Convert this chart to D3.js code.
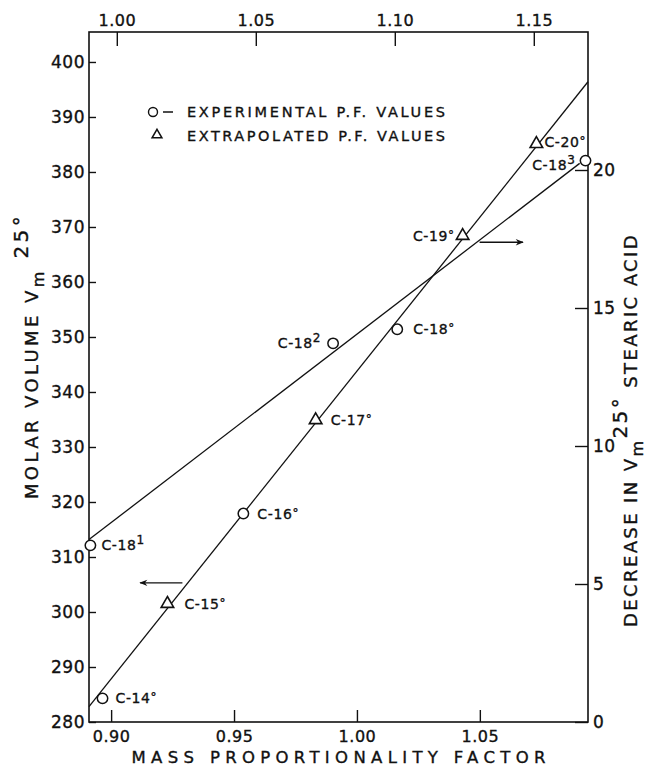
<!DOCTYPE html>
<html><head><meta charset="utf-8">
<script src="https://cdn.jsdelivr.net/npm/d3@7"></script>
<style>
body{margin:0;background:#fff}
svg{display:block}
text{font-family:"DejaVu Sans",sans-serif;fill:#111;stroke:#111;stroke-width:0.35px}
</style>
</head><body>
<svg id="c" width="647" height="767"></svg>
<script>
// ---------- data ----------
const bottomTicks = [0.90, 0.95, 1.00, 1.05];
const topTicks = [1.00, 1.05, 1.10, 1.15];
const leftTicks = [280, 290, 300, 310, 320, 330, 340, 350, 360, 370, 380, 390, 400];
const rightTicks = [0, 5, 10, 15, 20];

// homologous series: mass proportionality factor (bottom) vs molar volume (left)
const homologNames = ["C-14", "C-15", "C-16", "C-17", "C-18", "C-19", "C-20"];
const homologPF = [0.8965, 0.9229, 0.9538, 0.9832, 1.0164, 1.0430, 1.0730];
const homologVm = [284.3, 301.5, 317.9, 334.9, 351.4, 368.4, 385.1];
const homologKind = ["exp", "ext", "exp", "ext", "exp", "ext", "ext"];
const homologFitPF = [0.891, 1.094];
const homologFitVm = [282.8, 396.4];

// C-18 series: P.F. (top) vs decrease in Vm (right)
const c18Names = ["C-18", "C-18", "C-18"];
const c18Sup = ["1", "2", "3"];
const c18PF = [0.9905, 1.0778, 1.1686];
const c18Decrease = [6.40, 13.72, 20.34];
const c18Kind = ["exp", "exp", "exp"];
const c18FitPF = [0.990, 1.1665];
const c18FitDec = [6.61, 20.24];

// arrows (which axis each line belongs to)
const arrowLeftPF = [0.9290, 0.9118];
const arrowLeftVm = 305.3;
const arrowRightPF = [1.1305, 1.1461];
const arrowRightDec = 17.38;

const legendLabels = ["EXPERIMENTAL  P.F.  VALUES", "EXTRAPOLATED  P.F.  VALUES"];

// ---------- layout ----------
const L = 89, R = 588, T = 32, B = 722;
const svg = d3.select("#c");

const xB = d3.scaleLinear().domain([0.891, 1.094]).range([L, R]);
const xT = d3.scaleLinear().domain([0.990, 1.1695]).range([L, R]);
const yL = d3.scaleLinear().domain([280, 405.45]).range([B, T]);
const yR = d3.scaleLinear().domain([0, 25]).range([B, T]);

function styleAxis(g, size) {
  g.select(".domain").remove();
  g.selectAll(".tick line").attr("stroke", "#111").attr("stroke-width", 1.4);
  g.selectAll(".tick text").attr("font-size", size).attr("fill", "#111")
    .attr("font-family", "DejaVu Sans, sans-serif").attr("letter-spacing", 0.5);
}

svg.append("g").attr("transform", `translate(0,${B})`)
  .call(d3.axisBottom(xB).tickValues(bottomTicks).tickFormat(d3.format(".2f"))
    .tickSize(-12).tickPadding(9))
  .call(g => styleAxis(g, 16));
svg.append("g").attr("transform", `translate(0,${T})`)
  .call(d3.axisTop(xT).tickValues(topTicks).tickFormat(d3.format(".2f"))
    .tickSize(-14).tickPadding(6))
  .call(g => styleAxis(g, 16));
svg.append("g").attr("transform", `translate(${L},0)`)
  .call(d3.axisLeft(yL).tickValues(leftTicks).tickSize(-7).tickPadding(4))
  .call(g => styleAxis(g, 17));
svg.append("g").attr("transform", `translate(${R},0)`)
  .call(d3.axisRight(yR).tickValues(rightTicks).tickSize(-13).tickPadding(5))
  .call(g => styleAxis(g, 17));

// frame
svg.append("rect").attr("x", L).attr("y", T).attr("width", R - L).attr("height", B - T)
  .attr("fill", "none").attr("stroke", "#111").attr("stroke-width", 1.6);

// fitted lines
const line = d3.line();
svg.append("path")
  .attr("d", line(homologFitPF.map((p, i) => [xB(p), yL(homologFitVm[i])])))
  .attr("fill", "none").attr("stroke", "#111").attr("stroke-width", 1.3);
svg.append("path")
  .attr("d", line(c18FitPF.map((p, i) => [xT(p), yR(c18FitDec[i])])))
  .attr("fill", "none").attr("stroke", "#111").attr("stroke-width", 1.3);

// arrows
const defs = svg.append("defs");
defs.append("marker").attr("id", "ah").attr("viewBox", "0 0 10 10")
  .attr("refX", 9).attr("refY", 5).attr("markerWidth", 10).attr("markerHeight", 8)
  .attr("markerUnits", "userSpaceOnUse").attr("orient", "auto")
  .append("path").attr("d", "M0,1 L10,5 L0,9 L3,5 Z").attr("fill", "#111");
svg.append("line")
  .attr("x1", xB(arrowLeftPF[0])).attr("x2", xB(arrowLeftPF[1]))
  .attr("y1", yL(arrowLeftVm)).attr("y2", yL(arrowLeftVm))
  .attr("stroke", "#111").attr("stroke-width", 1.4).attr("marker-end", "url(#ah)");
svg.append("line")
  .attr("x1", xT(arrowRightPF[0])).attr("x2", xT(arrowRightPF[1]))
  .attr("y1", yR(arrowRightDec)).attr("y2", yR(arrowRightDec))
  .attr("stroke", "#111").attr("stroke-width", 1.4).attr("marker-end", "url(#ah)");

// markers
const tri = d3.symbol().type(d3.symbolTriangle).size(68);
function drawMarker(x, y, kind) {
  if (kind === "exp") {
    svg.append("circle").attr("cx", x).attr("cy", y).attr("r", 5.2)
      .attr("fill", "#fff").attr("stroke", "#111").attr("stroke-width", 1.5);
  } else {
    svg.append("path").attr("d", tri()).attr("transform", `translate(${x},${y})`)
      .attr("fill", "#fff").attr("stroke", "#111").attr("stroke-width", 1.6);
  }
}
homologPF.forEach((p, i) => drawMarker(xB(p), yL(homologVm[i]), homologKind[i]));
c18PF.forEach((p, i) => drawMarker(xT(p), yR(c18Decrease[i]), c18Kind[i]));

// point labels (dx, dy, anchor)
const homologLabelPos = [[13, 5, "start"], [17, 5, "start"], [14, 5, "start"], [15, 5, "start"], [16, 5, "start"], [-8, 5, "end"], [8, 3, "start"]];
const c18LabelPos = [[11, 5, "start"], [-12, 5, "end"], [-10, 9, "end"]];
function addLabel(x, y, name, sup, pos) {
  const t = svg.append("text").attr("x", x + pos[0]).attr("y", y + pos[1])
    .attr("text-anchor", pos[2]).attr("font-size", 14).attr("letter-spacing", 0.6);
  t.append("tspan").text(name);
  if (sup) t.append("tspan").attr("dy", -6).attr("font-size", 12).text(sup);
  else t.append("tspan").attr("dy", -2).attr("font-size", 12).text("°");
}
homologPF.forEach((p, i) => addLabel(xB(p), yL(homologVm[i]), homologNames[i], null, homologLabelPos[i]));
c18PF.forEach((p, i) => addLabel(xT(p), yR(c18Decrease[i]), c18Names[i], c18Sup[i], c18LabelPos[i]));

// legend
const lg = svg.append("g");
lg.append("circle").attr("cx", 153).attr("cy", 112).attr("r", 4.5)
  .attr("fill", "#fff").attr("stroke", "#111").attr("stroke-width", 1.4);
lg.append("line").attr("x1", 163).attr("x2", 173).attr("y1", 112).attr("y2", 112)
  .attr("stroke", "#111").attr("stroke-width", 1.5);
lg.append("path").attr("d", d3.symbol().type(d3.symbolTriangle).size(42)())
  .attr("transform", "translate(157,135)")
  .attr("fill", "#fff").attr("stroke", "#111").attr("stroke-width", 1.5);
legendLabels.forEach((s, i) => {
  lg.append("text").attr("x", 187).attr("y", 117 + i * 23.5).attr("font-size", 14.5)
    .attr("textLength", 258).attr("lengthAdjust", "spacing").text(s);
});

// axis titles
svg.append("text").attr("x", (L + R) / 2).attr("y", 763).attr("text-anchor", "middle")
  .attr("font-size", 16.5).attr("textLength", 414).attr("lengthAdjust", "spacing")
  .text("MASS PROPORTIONALITY FACTOR");

function rotTitle(x, y, ls, parts) {
  const t = svg.append("text").attr("transform", `translate(${x},${y}) rotate(-90)`)
    .attr("text-anchor", "middle").attr("font-size", 18).attr("letter-spacing", ls);
  parts.forEach(p => {
    const s = t.append("tspan").text(p.t);
    if (p.dy) s.attr("dy", p.dy);
    if (p.fs) s.attr("font-size", p.fs);
  });
}
rotTitle(38, 356, 3.4, [
  { t: "MOLAR  VOLUME   V" },
  { t: "m", dy: 6, fs: 16 },
  { t: " 25°", dy: -16, fs: 20 },
  { t: "", dy: 10 }
]);
rotTitle(637, 430, 2.4, [
  { t: "DECREASE  IN  V" },
  { t: "m", dy: 6, fs: 16 },
  { t: "25°", dy: -16, fs: 20 },
  { t: " STEARIC  ACID", dy: 10 }
]);
</script>
</body></html>
